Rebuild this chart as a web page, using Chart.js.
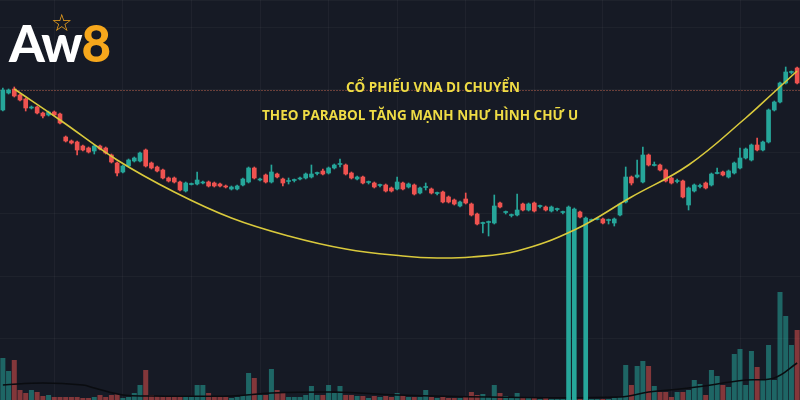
<!DOCTYPE html>
<html>
<head>
<meta charset="utf-8">
<script src="https://cdn.jsdelivr.net/npm/chart.js@4.4.1/dist/chart.umd.min.js"></script>
<style>
  body { margin: 0; background: #161a25; }
  #wrap { position: relative; width: 800px; height: 400px; overflow: hidden; background: #161a25; }
  .logo { position: absolute; left: 9px; top: 17px; font-family: Lato, 'Open Sans', sans-serif; font-weight: 900; font-size: 51px; letter-spacing: -2px; line-height: 1; }
  .logo .aw { color: #ffffff; }
  .logo .eight { color: #f6a71c; margin-left: 1px; }
  .logo .star { position: absolute; left: 42px; top: -7px; font-size: 24px; color: #f6a71c; letter-spacing: 0; font-weight: 400; }
  .note { position: absolute; color: #efdc45; font-family: 'Open Sans', sans-serif; font-weight: 700; font-size: 13.5px; white-space: nowrap; }
</style>
</head>
<body>
<div id="wrap">
  <canvas id="chart" width="800" height="400"></canvas>
  <div class="logo"><span class="star">☆</span><span class="aw">Aw</span><span class="eight">8</span></div>
  <div class="note" style="left:346px;top:78px">CỔ PHIẾU VNA DI CHUYỂN</div>
  <div class="note" style="left:262px;top:106px">THEO PARABOL TĂNG MẠNH NHƯ HÌNH CHỮ U</div>
</div>
<script>
// ── PRICE DATA (thousand VND) ────────────────────────────────
const opens = [
  29.0, 30.7, 31.1, 30.5, 30.1, 29.2, 29.3, 28.7, 28.5, 28.8,
  28.6, 26.3, 25.9, 25.8, 25.4, 25.2, 24.9, 25.4, 25.2, 24.5,
  23.7, 22.8, 23.4, 23.9, 23.9, 25.0, 23.7, 23.3, 23.0, 22.2,
  22.2, 21.8, 20.9, 21.55, 21.6, 21.7, 21.8, 21.7, 21.6, 21.4,
  21.1, 21.1, 21.5, 21.8, 23.2, 22.0, 22.5, 21.8, 22.6, 22.1,
  21.85, 21.95, 22.1, 22.2, 22.3, 22.65, 22.9, 22.7, 23.2, 23.55,
  23.5, 22.7, 22.1, 22.3, 21.75, 21.7, 21.45, 21.5, 21.2, 21.1,
  21.7, 21.3, 21.5, 20.7, 21.25, 21.1, 20.65, 20.8, 20.3, 20.0,
  19.4, 20.1, 19.6, 18.6, 17.65, 17.75, 17.7, 19.7, 18.75, 18.45,
  18.5, 19.6, 19.0, 19.7, 19.35, 19.3, 18.9, 19.05, 18.75, -1,
  -1, 18.8, -1, 17.95, 18.05, 18.1, 17.95, 17.7, 18.5, 19.8,
  22.3, 22.3, 21.8, 24.5, 23.45, 23.5, 23.0, 22.2, 21.85, 21.9,
  19.5, 20.9, 21.35, 21.7, 21.5, 22.65, 22.8, 22.3, 22.7, 23.2,
  24.2, 24.0, 25.5, 25.0, 25.8, 29.0, 29.8, 31.7, 32.75, 33.2
]
const closes = [
  31.0, 31.0, 30.4, 30.0, 29.2, 29.3, 28.7, 28.4, 28.8, 28.5,
  27.7, 25.9, 25.7, 25.0, 25.0, 24.8, 25.4, 25.1, 24.7, 23.8,
  22.7, 23.4, 24.0, 24.2, 24.7, 23.4, 23.2, 22.9, 22.2, 21.9,
  21.8, 21.0, 21.7, 21.6, 22.0, 21.8, 21.4, 21.4, 21.4, 21.3,
  21.3, 21.4, 22.1, 23.2, 22.2, 22.1, 21.8, 22.8, 22.3, 21.7,
  21.9, 22.0, 22.2, 22.6, 22.6, 22.7, 22.6, 23.2, 23.5, 23.6,
  22.6, 22.2, 22.3, 21.7, 21.8, 21.3, 21.5, 20.9, 20.9, 21.8,
  21.1, 21.6, 20.6, 21.2, 21.3, 20.7, 20.7, 19.8, 19.8, 19.6,
  19.8, 19.7, 18.5, 17.6, 17.7, 17.8, 19.4, 19.3, 18.8, 18.5,
  19.0, 19.0, 19.6, 18.9, 19.4, 19.0, 19.3, 19.1, 18.8, 19.3,
  19.1, 18.3, 18.2, 18.0, 18.1, 17.7, 18.0, 18.1, 19.6, 22.3,
  21.7, 22.5, 24.5, 23.5, 23.5, 23.0, 21.9, 21.7, 21.9, 20.3,
  21.2, 21.5, 21.4, 21.2, 22.6, 22.7, 22.5, 22.9, 23.7, 24.2,
  25.1, 25.5, 25.0, 25.8, 29.0, 29.8, 31.7, 32.8, 32.8, 31.7
]
const highs = [
  31.2, 31.1, 31.3, 30.6, 30.2, 29.4, 29.4, 28.8, 28.9, 28.9,
  28.7, 26.4, 26.0, 25.9, 25.5, 25.3, 25.5, 25.5, 25.3, 24.6,
  23.8, 23.5, 24.1, 24.3, 24.8, 25.1, 23.8, 23.4, 23.1, 22.3,
  22.3, 21.9, 21.8, 21.7, 22.8, 21.9, 21.9, 21.8, 21.7, 21.5,
  21.4, 21.5, 22.2, 23.3, 23.3, 22.2, 22.6, 23.5, 22.7, 22.2,
  22.2, 22.1, 22.3, 22.7, 23.5, 22.8, 23.1, 23.3, 23.6, 24.1,
  23.6, 22.8, 22.4, 22.4, 21.9, 21.8, 21.6, 21.6, 21.3, 22.3,
  21.8, 21.7, 21.6, 21.3, 21.7, 21.2, 20.8, 20.9, 20.4, 20.1,
  19.9, 20.7, 19.7, 18.7, 17.8, 17.9, 20.5, 19.8, 18.9, 18.6,
  20.6, 19.7, 19.7, 19.8, 19.5, 19.4, 19.4, 19.2, 18.9, 19.4,
  19.2, 18.9, 18.3, 18.1, 18.2, 18.2, 18.1, 18.2, 19.7, 23.3,
  22.4, 24.0, 25.3, 24.6, 23.8, 23.6, 23.1, 22.3, 22.1, 22.0,
  21.3, 21.6, 21.6, 21.8, 22.7, 23.2, 22.9, 23.0, 23.8, 25.2,
  25.2, 25.6, 26.2, 25.9, 29.1, 29.9, 31.8, 33.3, 32.9, 33.3
]
const lows = [
  28.9, 30.6, 30.3, 29.9, 28.9, 29.1, 28.6, 28.2, 28.4, 28.4,
  27.6, 25.8, 25.6, 24.5, 24.9, 24.7, 24.6, 25.0, 24.6, 23.7,
  22.4, 22.7, 23.3, 23.8, 23.8, 23.3, 23.1, 22.8, 22.1, 21.8,
  21.7, 20.9, 20.8, 21.5, 21.5, 21.6, 21.3, 21.3, 21.3, 21.2,
  21.0, 21.0, 21.4, 21.7, 22.1, 21.9, 21.7, 21.7, 22.2, 21.4,
  21.6, 21.8, 22.0, 22.1, 22.2, 22.5, 22.5, 22.6, 23.1, 23.3,
  22.5, 22.1, 22.0, 21.6, 21.6, 21.2, 21.3, 20.8, 20.8, 21.0,
  21.0, 21.2, 20.5, 20.6, 21.0, 20.6, 20.5, 19.7, 19.7, 19.5,
  19.3, 19.6, 18.4, 17.5, 16.7, 16.4, 17.6, 19.2, 18.6, 18.3,
  18.4, 18.9, 18.9, 18.8, 19.2, 18.9, 18.8, 18.9, 18.6, -1,
  -1, 18.2, -1, 17.9, 18.0, 17.6, 17.6, 17.4, 18.4, 19.7,
  21.5, 22.2, 21.7, 23.4, 23.4, 22.9, 21.8, 21.6, 21.7, 20.2,
  19.0, 20.8, 21.2, 21.1, 21.4, 22.6, 22.4, 22.2, 22.6, 23.1,
  24.1, 23.9, 24.9, 24.9, 25.7, 28.9, 29.7, 31.6, 32.6, 31.6
]
// ── VOLUME (million shares) ──────────────────────────────────
const volumes = [
  4.2, 2.9, 4.0, 1.0, 0.7, 1.0, 0.8, 0.4, 0.5, 0.3,
  0.3, 0.3, 0.3, 0.3, 0.2, 0.2, 0.3, 0.5, 0.3, 0.5,
  0.6, 0.2, 0.3, 0.7, 1.5, 3.0, 0.5, 0.4, 0.4, 0.3,
  0.3, 0.4, 0.3, 0.3, 1.5, 1.5, 0.7, 0.3, 0.4, 0.3,
  0.2, 0.3, 0.5, 2.7, 2.2, 0.5, 0.5, 3.1, 1.0, 0.7,
  0.3, 0.3, 0.3, 0.5, 1.4, 0.5, 0.5, 1.5, 0.7, 1.4,
  0.5, 0.5, 0.4, 0.4, 0.2, 0.4, 0.3, 0.4, 0.3, 0.7,
  0.5, 0.3, 0.3, 0.3, 1.0, 0.3, 0.2, 0.3, 0.2, 0.2,
  0.2, 0.3, 0.8, 0.5, 0.6, 0.3, 1.5, 0.7, 0.4, 0.3,
  0.7, 0.2, 0.3, 0.2, 0.1, 0.2, 0.1, 0.1, 0.1, 0.1,
  0.1, 0.1, 0.1, 0.1, 0.1, 0.1, 0.1, 0.2, 0.3, 3.5,
  1.5, 3.4, 3.9, 3.4, 1.4, 0.8, 0.8, 0.3, 0.8, 0.8,
  1.0, 2.0, 1.6, 0.5, 3.0, 2.4, 1.5, 1.3, 4.6, 5.1,
  1.5, 4.9, 3.3, 2.0, 5.5, 2.0, 10.8, 8.4, 5.5, 7.0
]
// volume moving average, read at a few candles
const volMaIdx = [0, 7, 14, 16, 21, 26, 40, 47, 58, 69, 85, 108, 113, 120, 130, 135, 139]
const volMaVal = [1.5, 1.7, 1.5, 1.2, 0.5, 0.4, 0.4, 0.7, 0.8, 0.5, 0.3, 0.3, 0.8, 1.2, 2.0, 2.2, 3.7]
// hand-drawn U curve, read at a few candles
const curveIdx = [2, 10, 20, 30, 40, 50, 60, 70, 76, 82, 90, 100, 110, 120, 130, 135, 139]
const curveVal = [31.1, 28.0, 24.0, 20.8, 18.2, 16.4, 15.1, 14.4, 14.2, 14.3, 14.9, 17.0, 20.3, 23.5, 28.2, 30.8, 32.9]
const refLine = 31.0

const labels = opens.map((_, i) => i + 1)
const UP = '#26a69a', DOWN = '#ef5350'
const isUp = opens.map((o, i) => closes[i] >= o)
const candleColor = isUp.map(u => u ? UP : DOWN)
const volColor = isUp.map(u => u ? 'rgba(38,166,154,0.55)' : 'rgba(239,83,80,0.5)')

function sparse(idx, val) {
  const arr = labels.map(() => null)
  idx.forEach((k, j) => { arr[k] = val[j] })
  return arr
}

const refLinePlugin = {
  id: 'refLine',
  beforeDatasetsDraw(chart) {
    const { ctx, chartArea, scales } = chart
    const y = Math.round(scales.y.getPixelForValue(refLine)) + 0.5
    ctx.save()
    ctx.strokeStyle = 'rgba(190,100,80,0.5)'
    ctx.lineWidth = 1
    ctx.setLineDash([2, 1])
    ctx.beginPath()
    ctx.moveTo(chartArea.left, y)
    ctx.lineTo(chartArea.right, y)
    ctx.stroke()
    ctx.restore()
  }
}

// ── CHART ────────────────────────────────────────────────────
const ctx = document.getElementById('chart').getContext('2d')
new Chart(ctx, {
  data: {
    labels,
    datasets: [
      {
        type: 'line',
        data: sparse(curveIdx, curveVal),
        borderColor: '#d9c93c',
        borderWidth: 1.6,
        pointRadius: 0,
        spanGaps: true,
        tension: 0.4,
        yAxisID: 'y',
        order: 1
      },
      {
        type: 'bar',
        data: opens.map((o, i) => [o, closes[i]]),
        backgroundColor: candleColor,
        barThickness: 4,
        minBarLength: 1,
        grouped: false,
        yAxisID: 'y',
        order: 2
      },
      {
        type: 'bar',
        data: lows.map((l, i) => [l, highs[i]]),
        backgroundColor: candleColor,
        barThickness: 1,
        grouped: false,
        yAxisID: 'y',
        order: 3
      },
      {
        type: 'line',
        data: sparse(volMaIdx, volMaVal),
        borderColor: '#0a0c10',
        borderWidth: 1.5,
        pointRadius: 0,
        spanGaps: true,
        tension: 0.4,
        yAxisID: 'yv',
        order: 4
      },
      {
        type: 'bar',
        data: volumes,
        backgroundColor: volColor,
        barPercentage: 0.88,
        categoryPercentage: 1,
        grouped: false,
        yAxisID: 'yv',
        order: 5
      }
    ]
  },
  options: {
    responsive: false,
    animation: false,
    layout: { padding: 0 },
    plugins: { legend: { display: false }, tooltip: { enabled: false } },
    scales: {
      x: {
        offset: true,
        border: { display: false },
        grid: { color: 'rgba(255,255,255,0.04)', offset: false, drawTicks: false },
        ticks: {
          display: false,
          autoSkip: false,
          callback: (v, i) => (i % 12 === 9 ? '' : null)
        }
      },
      y: {
        min: 0,
        max: 40,
        border: { display: false },
        grid: { color: 'rgba(255,255,255,0.035)', drawTicks: false },
        ticks: { display: false, stepSize: 6.2 }
      },
      yv: {
        display: false,
        min: 0,
        max: 40
      }
    }
  },
  plugins: [refLinePlugin]
})
</script>
</body>
</html>
